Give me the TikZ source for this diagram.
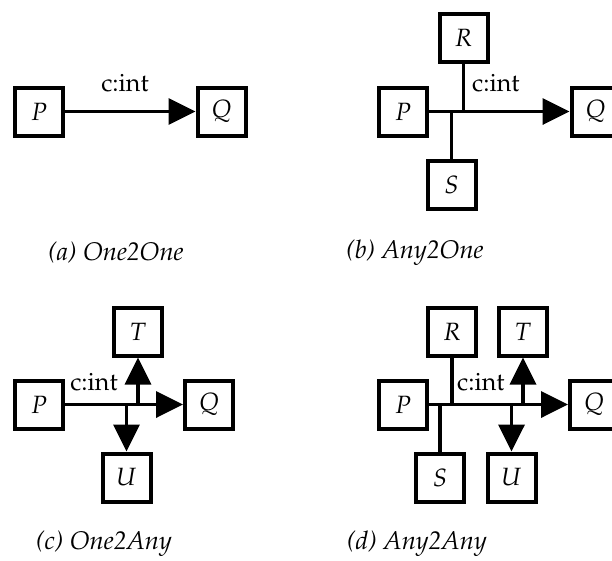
\documentclass[tikz,border=0pt]{standalone}
\usepackage[T1]{fontenc}
\usepackage{mathpazo}
\usetikzlibrary{arrows.meta}

\tikzset{
  proc/.style={draw, line width=4pt, minimum size=48pt, inner sep=0pt,
    font=\fontsize{25}{30}\selectfont},
  chan/.style={line width=3.6pt},
  send/.style={chan, -{Triangle[length=27pt,width=26pt]}},
  lbl/.style={font=\fontsize{25}{30}\selectfont, inner sep=0pt},
  subcap/.style={font=\fontsize{25.5}{30}\selectfont\itshape, inner sep=0pt},
}

\begin{document}
\begin{tikzpicture}[x=1pt,y=-1pt]
\useasboundingbox (0,0) rectangle (612,560);
\clip (0,0) rectangle (612,560);

% (a) One2One
\node[proc] (aP) at (39,111.5) {$P$};
\node[proc] (aQ) at (221.5,111.5) {$Q$};
\draw[send] (aP.east) -- (aQ.west);
\node[lbl] (aL) at (125,83) {c:int};
\node[subcap] (aC) at (116,253) {(a) One2One};

% (b) Any2One
\node[proc] (bR) at (463.5,38) {$R$};
\node[proc] (bP) at (403,111.5) {$P$};
\node[proc] (bQ) at (595.5,111.5) {$Q$};
\node[proc] (bS) at (451.5,184.5) {$S$};
\draw[send] (bP.east) -- (bQ.west);
\draw[chan] (bR.south) -- (bR.south |- bP.east);
\draw[chan] (bS.north) -- (bS.north |- bP.east);
\node[lbl, anchor=west] (bL) at (472,83) {c:int};
\node[subcap] (bC) at (415,253) {(b) Any2One};

% (c) One2Any
\node[proc] (cT) at (138,331.5) {$T$};
\node[proc] (cP) at (39,404.5) {$P$};
\node[proc] (cQ) at (209,404.5) {$Q$};
\node[proc] (cU) at (126.5,477.5) {$U$};
\draw[send] (cP.east) -- (cQ.west);
\draw[send] (cT.south |- cP.east) -- (cT.south);
\draw[send] (cU.north |- cP.east) -- (cU.north);
\node[lbl] (cL) at (94,382) {c:int};
\node[subcap] (cC) at (104,544) {(c) One2Any};

% (d) Any2Any
\node[proc] (dR) at (452,331.5) {$R$};
\node[proc] (dT) at (523,331.5) {$T$};
\node[proc] (dP) at (403,404.5) {$P$};
\node[proc] (dQ) at (594,404.5) {$Q$};
\node[proc] (dS) at (440,477.5) {$S$};
\node[proc] (dU) at (511.5,477.5) {$U$};
\draw[send] (dP.east) -- (dQ.west);
\draw[chan] (dR.south) -- (dR.south |- dP.east);
\draw[chan] (dS.north) -- (dS.north |- dP.east);
\draw[send] (dT.south |- dP.east) -- (dT.south);
\draw[send] (dU.north |- dP.east) -- (dU.north);
\node[lbl, anchor=west] (dL) at (457,382) {c:int};
\node[subcap] (dC) at (417,544) {(d) Any2Any};
\end{tikzpicture}
\end{document}
